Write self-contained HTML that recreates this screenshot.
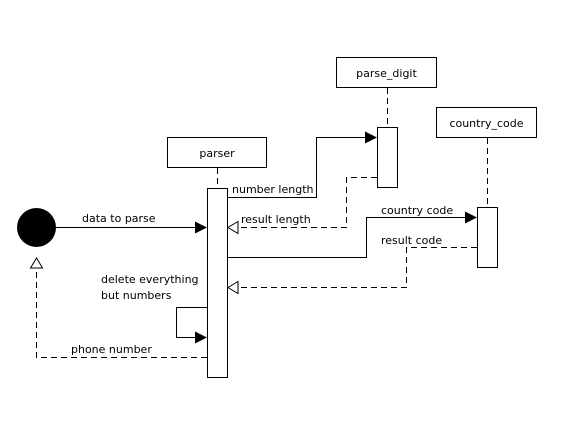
<!DOCTYPE html>
<html><head><style>body{margin:0;background:#fff}svg{display:block}text{font-family:"DejaVu Sans","Liberation Sans",sans-serif;font-size:11px;fill:#000}</style></head><body>
<svg width="579" height="427" viewBox="0 0 579 427" xmlns="http://www.w3.org/2000/svg">
<rect width="579" height="427" fill="#fff"/>
<g stroke="#000" stroke-width="1" fill="none">
<rect x="167.5" y="137.5" width="99" height="30" fill="#fff"/>
<rect x="336.5" y="57.5" width="100" height="30" fill="#fff"/>
<rect x="436.5" y="107.5" width="100" height="30" fill="#fff"/>
<g stroke-dasharray="6 4">
<line x1="217.5" y1="168" x2="217.5" y2="188"/>
<line x1="387.5" y1="88" x2="387.5" y2="127"/>
<line x1="487.5" y1="138" x2="487.5" y2="207"/>
<polyline points="377,177.5 346.5,177.5 346.5,227.5 238,227.5"/>
<polyline points="477,247.5 406.5,247.5 406.5,287.5 238,287.5"/>
<polyline points="207,357.5 36.5,357.5 36.5,270"/>
</g>
<polyline points="56,227.5 198,227.5"/>
<polyline points="227,197.5 316.5,197.5 316.5,137.5 368,137.5"/>
<polyline points="227,257.5 366.5,257.5 366.5,217.5 468,217.5"/>
<polyline points="207,307.5 176.5,307.5 176.5,337.5 198,337.5"/>
<rect x="207.5" y="188.5" width="20" height="189" fill="#fff"/>
<rect x="377.5" y="127.5" width="20" height="60" fill="#fff"/>
<rect x="477.5" y="207.5" width="20" height="60" fill="#fff"/>
<polygon points="228,227.5 238,221.5 238,233.5" fill="#fff"/>
<polygon points="228,287.5 238,281.5 238,293.5" fill="#fff"/>
<polygon points="36.5,258 30.5,268 42.5,268" fill="#fff"/>
</g>
<g fill="#000">
<circle cx="36.5" cy="227.5" r="19.5"/>
<polygon points="207,227.5 195,221.5 195,233.5"/>
<polygon points="377,137.5 365,131.5 365,143.5"/>
<polygon points="477,217.5 465,211.5 465,223.5"/>
<polygon points="207,337.5 195,331.5 195,343.5"/>
</g>
<text x="217" y="157" text-anchor="middle">parser</text>
<text x="386.5" y="77" text-anchor="middle">parse_digit</text>
<text x="486.5" y="127" text-anchor="middle">country_code</text>
<text x="82" y="222">data to parse</text>
<text x="232" y="193">number length</text>
<text x="241" y="223">result length</text>
<text x="381" y="214">country code</text>
<text x="381" y="244">result code</text>
<text x="101" y="283">delete everything</text>
<text x="101" y="299">but numbers</text>
<text x="71" y="353">phone number</text>
</svg>
</body></html>
